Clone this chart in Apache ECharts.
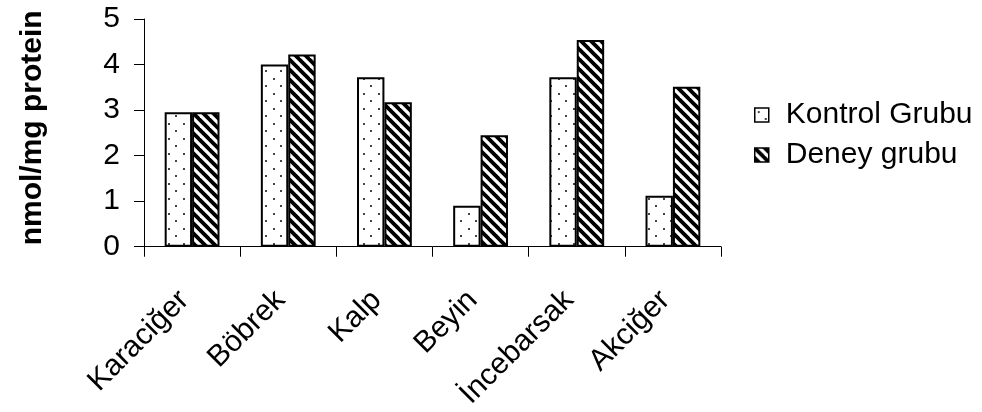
<!DOCTYPE html>
<html>
<head>
<meta charset="utf-8">
<script src="https://cdn.jsdelivr.net/npm/echarts@6/dist/echarts.min.js"></script>
<style>
html,body{margin:0;padding:0;background:#fff;}
#chart{width:982px;height:412px;}
</style>
</head>
<body>
<div id="chart"></div>
<script>
const categories = ['Karaciğer', 'Böbrek', 'Kalp', 'Beyin', 'İncebarsak', 'Akciğer'];
const seriesNames = ['Kontrol Grubu', 'Deney grubu'];
const kontrolValues = [2.95, 4.0, 3.72, 0.9, 3.72, 1.12];
const deneyValues = [2.95, 4.22, 3.17, 2.45, 4.54, 3.51];
const yTicks = {min: 0, max: 5, interval: 1};
const yAxisName = 'nmol/mg protein';

function dotPattern() {
  const c = document.createElement('canvas');
  c.width = 15; c.height = 15;
  const g = c.getContext('2d');
  g.fillStyle = '#fff';
  g.fillRect(0, 0, 15, 15);
  g.fillStyle = '#444';
  g.fillRect(3, 3, 2, 2);
  g.fillRect(10, 10, 2, 2);
  return c;
}
function stripePattern() {
  const s = 10;
  const c = document.createElement('canvas');
  c.width = s; c.height = s;
  const g = c.getContext('2d');
  g.fillStyle = '#fff';
  g.fillRect(0, 0, s, s);
  g.strokeStyle = '#000';
  g.lineWidth = 3.8;
  for (let k = -1; k <= 1; k++) {
    g.beginPath();
    g.moveTo(-s, -s + k * s);
    g.lineTo(2 * s, 2 * s + k * s);
    g.stroke();
  }
  return c;
}

const FONT = "'Liberation Sans', Arial, sans-serif";
const FS = 30;
const chart = echarts.init(document.getElementById('chart'), null, {renderer: 'canvas'});
const patterns = [dotPattern(), stripePattern()];
const values = [kontrolValues, deneyValues];

chart.setOption({
  animation: false,
  backgroundColor: '#fff',
  grid: {left: 144, right: 261, top: 19, bottom: 159, containLabel: false},
  legend: {
    orient: 'vertical',
    left: 749,
    top: 95,
    padding: 5,
    itemWidth: 14,
    itemHeight: 14,
    itemGap: 10,
    icon: 'rect',
    data: seriesNames,
    textStyle: {fontFamily: FONT, fontSize: 30, color: '#000', padding: [0, 0, 0, 12]},
    itemStyle: {borderColor: '#000', borderWidth: 1.5}
  },
  xAxis: {
    type: 'category',
    data: categories,
    axisLine: {lineStyle: {color: '#000', width: 1}},
    axisTick: {show: true, length: 10, lineStyle: {color: '#000'}},
    axisLabel: {rotate: 45, margin: 41, fontFamily: FONT, fontSize: FS, color: '#000', interval: 0, padding: [0, 11, 0, 0]}
  },
  yAxis: {
    type: 'value',
    min: yTicks.min, max: yTicks.max, interval: yTicks.interval,
    name: yAxisName,
    nameLocation: 'middle',
    nameRotate: 90,
    nameGap: 96,
    nameTextStyle: {fontFamily: FONT, fontSize: 30, fontWeight: 'bold', color: '#000', padding: [0, 0, 0, 10]},
    axisLine: {show: true, lineStyle: {color: '#000', width: 1}},
    axisTick: {show: true, length: 10, lineStyle: {color: '#000'}},
    splitLine: {show: false},
    axisLabel: {margin: 24, fontFamily: FONT, fontSize: FS, color: '#000'}
  },
  series: seriesNames.map((n, i) => ({
    name: n,
    type: 'bar',
    data: values[i],
    barGap: '0%',
    barCategoryGap: '43%',
    itemStyle: {color: {image: patterns[i], repeat: 'repeat'}, borderColor: '#000', borderWidth: 2}
  }))
});
</script>
</body>
</html>
